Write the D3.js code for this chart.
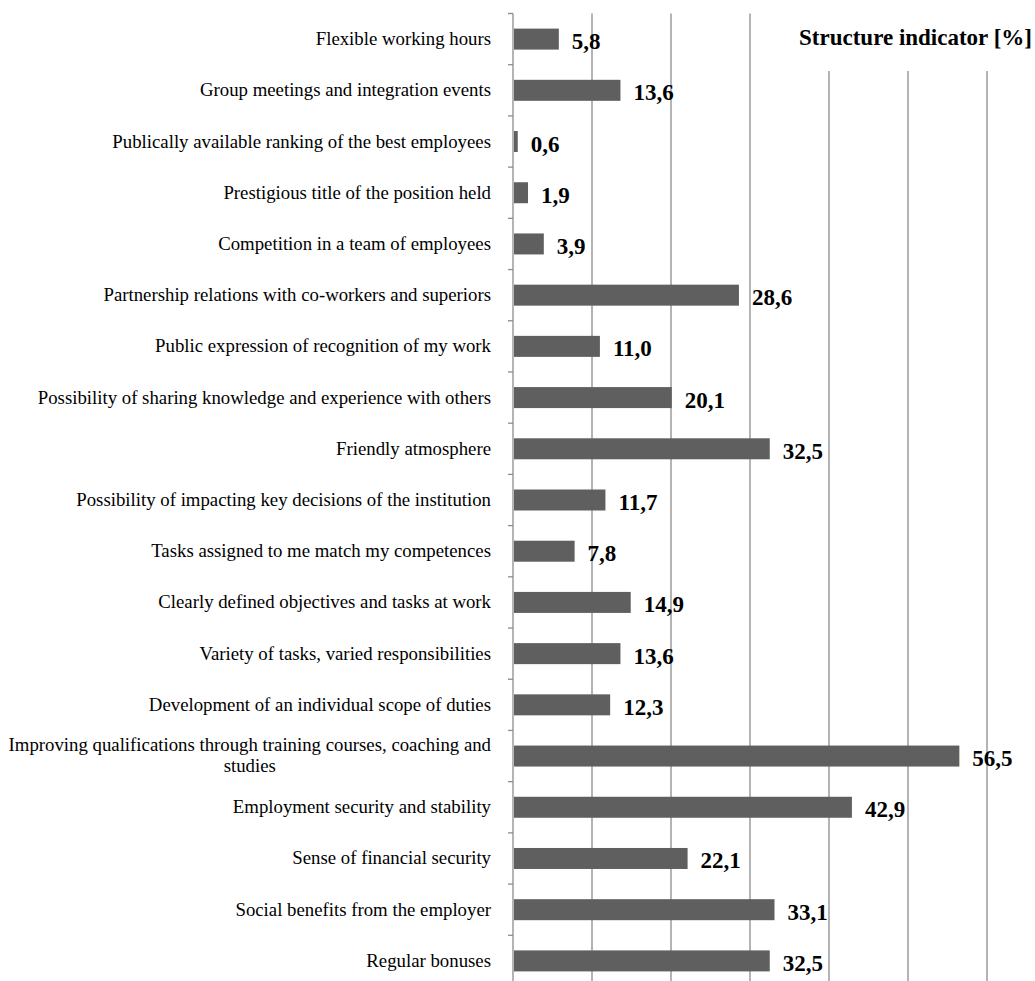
<!DOCTYPE html>
<html>
<head>
<meta charset="utf-8">
<script src="https://cdn.jsdelivr.net/npm/d3@7"></script>
<style>
  body { margin: 0; background: #fff; }
  svg { display: block; }
</style>
</head>
<body>
<svg id="chart" width="1035" height="981"></svg>
<script>
// categories top to bottom
const categories = [
  "Flexible working hours",
  "Group meetings and integration events",
  "Publically available ranking of the best employees",
  "Prestigious title of the position held",
  "Competition in a team of employees",
  "Partnership relations with co-workers and superiors",
  "Public expression of recognition of my work",
  "Possibility of sharing knowledge and experience with others",
  "Friendly atmosphere",
  "Possibility of impacting key decisions of the institution",
  "Tasks assigned to me match my competences",
  "Clearly defined objectives and tasks at work",
  "Variety of tasks, varied responsibilities",
  "Development of an individual scope of duties",
  "Improving qualifications through training courses, coaching and|studies",
  "Employment security and stability",
  "Sense of financial security",
  "Social benefits from the employer",
  "Regular bonuses"
];
const values = [5.8, 13.6, 0.6, 1.9, 3.9, 28.6, 11.0, 20.1, 32.5, 11.7, 7.8, 14.9, 13.6, 12.3, 56.5, 42.9, 22.1, 33.1, 32.5];
const gridTicks = [10, 20, 30, 40, 50, 60];
const title = "Structure indicator [%]";

const svg = d3.select("#chart");
const plotLeft = 513, plotRight = 987, plotTop = 13.5, plotBottom = 986.5;
const serif = "'Liberation Serif', 'Times New Roman', serif";

const x = d3.scaleLinear().domain([0, 60]).range([plotLeft, plotRight]);
const y = d3.scaleBand().domain(d3.range(categories.length)).range([plotTop, plotBottom]).paddingInner(0.59).paddingOuter(0.295);
const step = y.step();

// vertical gridlines (the right ones stop below the title)
svg.append("g")
  .selectAll("line")
  .data(gridTicks)
  .enter()
  .append("line")
    .attr("x1", d => x(d))
    .attr("x2", d => x(d))
    .attr("y1", d => d > 30 ? 71 : plotTop)
    .attr("y2", plotBottom)
    .attr("stroke", "#8c8c8c")
    .attr("stroke-width", 1.3);

// axis line with ticks between categories
const axis = svg.append("g");
axis.append("line")
  .attr("x1", plotLeft).attr("x2", plotLeft)
  .attr("y1", plotTop).attr("y2", plotBottom)
  .attr("stroke", "#8c8c8c")
  .attr("stroke-width", 1.3);
axis.selectAll(".tick")
  .data(d3.range(categories.length + 1))
  .enter()
  .append("line")
    .attr("x1", plotLeft - 5).attr("x2", plotLeft)
    .attr("y1", i => plotTop + i * step)
    .attr("y2", i => plotTop + i * step)
    .attr("stroke", "#8c8c8c")
    .attr("stroke-width", 1.3);

// bars
svg.append("g")
  .selectAll("rect")
  .data(values)
  .enter()
  .append("rect")
    .attr("x", x(0) + 1)
    .attr("y", (d, i) => y(i))
    .attr("width", d => x(d) - x(0) - 1)
    .attr("height", y.bandwidth())
    .attr("fill", "#5f5f5f");

// value labels
svg.append("g")
  .selectAll("text")
  .data(values)
  .enter()
  .append("text")
    .attr("x", d => x(d) + 13)
    .attr("y", (d, i) => y(i) + y.bandwidth() / 2 + 10)
    .attr("font-family", serif)
    .attr("font-weight", "bold")
    .attr("font-size", 23)
    .attr("fill", "#000")
    .text(d => d.toFixed(1).replace(".", ","));

// category labels
const labels = svg.append("g")
  .selectAll("text")
  .data(categories)
  .enter()
  .append("text")
    .attr("font-family", serif)
    .attr("font-size", 18.8)
    .attr("fill", "#000");

labels.each(function(d, i) {
  const lines = d.split("|");
  const cy = y(i) + y.bandwidth() / 2;
  const t = d3.select(this);
  if (lines.length === 1) {
    t.attr("x", 491).attr("y", cy + 6).attr("text-anchor", "end").text(d);
  } else {
    t.attr("text-anchor", "middle");
    const tmp = t.append("tspan").text(lines[0]);
    const w = tmp.node().getComputedTextLength();
    tmp.remove();
    const cx = 491 - w / 2;
    lines.forEach((ln, k) => {
      t.append("tspan")
        .attr("x", cx)
        .attr("y", cy + 5 + (k - (lines.length - 1) / 2) * 21)
        .text(ln);
    });
  }
});

// title
svg.append("text")
  .attr("x", 1032)
  .attr("y", 45)
  .attr("text-anchor", "end")
  .attr("font-family", serif)
  .attr("font-weight", "bold")
  .attr("font-size", 23)
  .text(title);
</script>
</body>
</html>
